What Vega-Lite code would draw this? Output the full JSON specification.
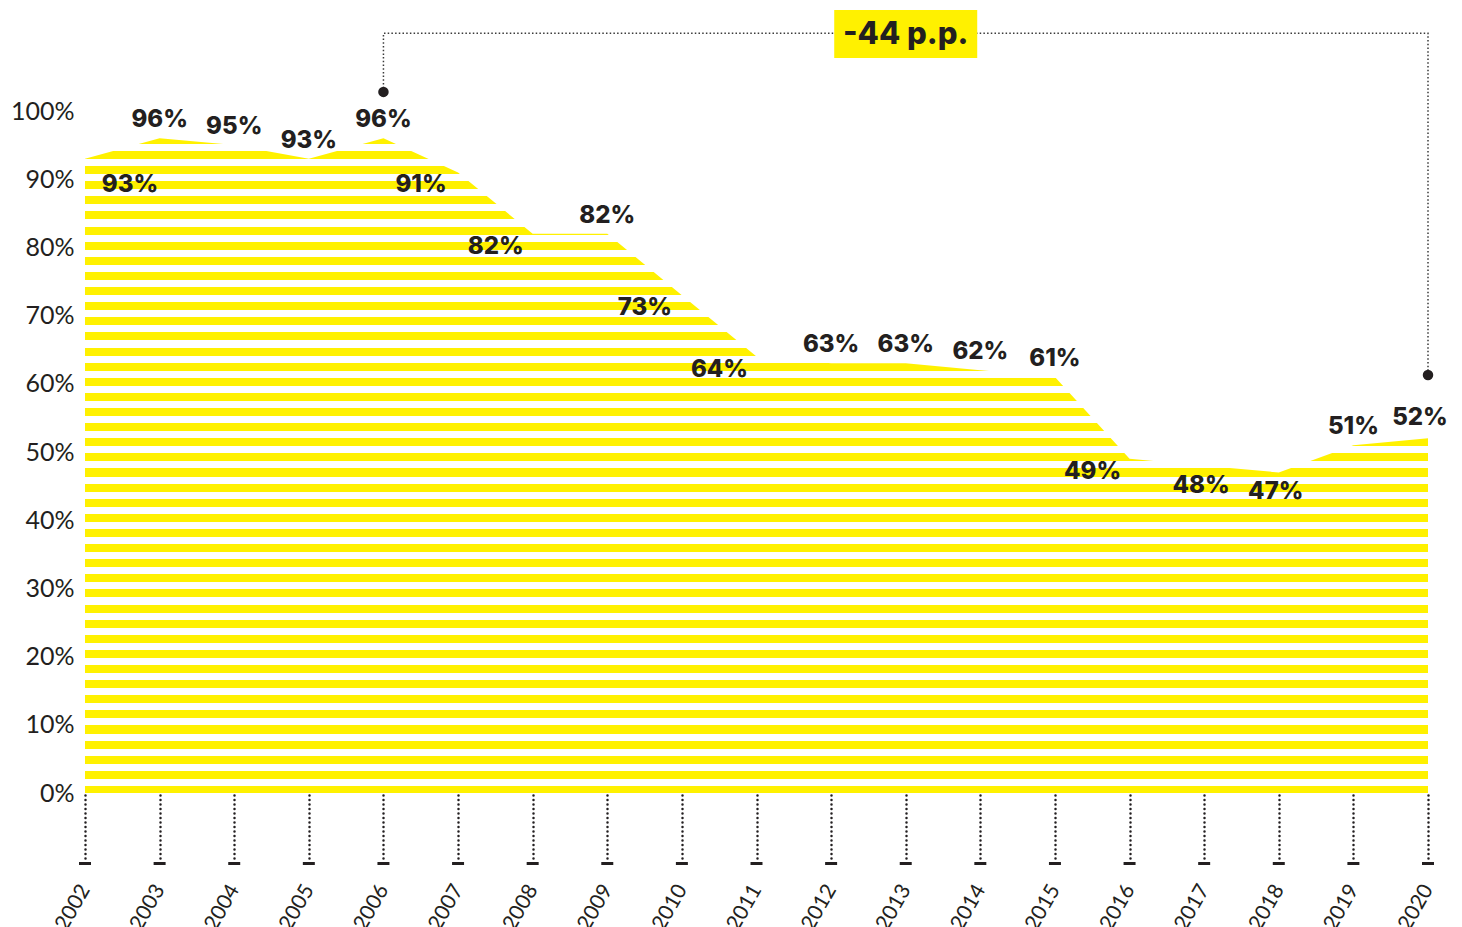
{
  "$schema": "https://vega.github.io/schema/vega-lite/v6.json",
  "autosize": {"type": "none"},
  "padding": {"left": 85, "top": 111, "right": 34, "bottom": 134},
  "width": 1343,
  "height": 682,
  "background": "#ffffff",
  "config": {"view": {"stroke": null}, "font": "Lato"},
  "datasets": {
    "main": [
      {"year": 2002, "value": 93, "label": "93%", "pos": "start"},
      {"year": 2003, "value": 96, "label": "96%", "pos": "above"},
      {"year": 2004, "value": 95, "label": "95%", "pos": "above"},
      {"year": 2005, "value": 93, "label": "93%", "pos": "above"},
      {"year": 2006, "value": 96, "label": "96%", "pos": "above"},
      {"year": 2007, "value": 91, "label": "91%", "pos": "belowleft"},
      {"year": 2008, "value": 82, "label": "82%", "pos": "belowleft"},
      {"year": 2009, "value": 82, "label": "82%", "pos": "above"},
      {"year": 2010, "value": 73, "label": "73%", "pos": "belowleft"},
      {"year": 2011, "value": 64, "label": "64%", "pos": "belowleft"},
      {"year": 2012, "value": 63, "label": "63%", "pos": "above"},
      {"year": 2013, "value": 63, "label": "63%", "pos": "above"},
      {"year": 2014, "value": 62, "label": "62%", "pos": "above"},
      {"year": 2015, "value": 61, "label": "61%", "pos": "above"},
      {"year": 2016, "value": 49, "label": "49%", "pos": "belowleft"},
      {"year": 2017, "value": 48, "label": "48%", "pos": "below"},
      {"year": 2018, "value": 47, "label": "47%", "pos": "below"},
      {"year": 2019, "value": 51, "label": "51%", "pos": "above"},
      {"year": 2020, "value": 52, "label": "52%", "pos": "end"}
    ],
    "bracket": [
      {"year": 2006, "value": 102.8, "order": 1, "end": true},
      {"year": 2006, "value": 111.4, "order": 2, "end": false},
      {"year": 2020, "value": 111.4, "order": 3, "end": false},
      {"year": 2020, "value": 61.3, "order": 4, "end": true}
    ],
    "box": [
      {"year": 2013.0, "value": 111.3, "text": "-44 p.p."}
    ]
  },
  "encoding": {
    "x": {
      "field": "year", "type": "quantitative",
      "scale": {"domain": [2002, 2020], "nice": false, "zero": false},
      "axis": {
        "values": [2002, 2003, 2004, 2005, 2006, 2007, 2008, 2009, 2010, 2011, 2012, 2013, 2014, 2015, 2016, 2017, 2018, 2019, 2020],
        "format": "d", "title": null, "domain": false, "grid": false,
        "ticks": true, "tickSize": 67, "offset": 2, "tickDash": [0.1, 4.4], "tickCap": "round", "tickWidth": 2.5, "tickColor": "#231f20",
        "labelAngle": -60, "labelAlign": "right", "labelBaseline": "middle", "labelPadding": 24, "labelDx": 4,
        "labelFont": "Lato", "labelFontWeight": 400, "labelFontSize": 21, "labelColor": "#231f20",
        "labelFlush": false, "labelOverlap": false
      }
    },
    "y": {
      "field": "value", "type": "quantitative",
      "scale": {"domain": [0, 100], "nice": false, "zero": true},
      "axis": {
        "values": [0, 10, 20, 30, 40, 50, 60, 70, 80, 90, 100],
        "labelExpr": "datum.value + '%'", "title": null, "domain": false, "ticks": false, "grid": false,
        "labelFont": "Lato", "labelFontWeight": 400, "labelFontSize": 25, "labelColor": "#231f20", "labelPadding": 11
      }
    }
  },
  "layer": [
    {
      "data": {"name": "main"},
      "mark": {
        "type": "area",
        "interpolate": "linear",
        "fill": {
          "gradient": "linear",
          "x1": 0, "y1": 0, "x2": 0, "y2": 1,
          "stops": [
            {"offset": 0, "color": "#FFF100"},
            {"offset": 0.0085, "color": "#FFF100"}, {"offset": 0.0085, "color": "#ffffff"}, {"offset": 0.0194, "color": "#ffffff"}, {"offset": 0.0194, "color": "#FFF100"},
            {"offset": 0.0316, "color": "#FFF100"}, {"offset": 0.0316, "color": "#ffffff"}, {"offset": 0.0425, "color": "#ffffff"}, {"offset": 0.0425, "color": "#FFF100"},
            {"offset": 0.0547, "color": "#FFF100"}, {"offset": 0.0547, "color": "#ffffff"}, {"offset": 0.0656, "color": "#ffffff"}, {"offset": 0.0656, "color": "#FFF100"},
            {"offset": 0.0778, "color": "#FFF100"}, {"offset": 0.0778, "color": "#ffffff"}, {"offset": 0.0887, "color": "#ffffff"}, {"offset": 0.0887, "color": "#FFF100"},
            {"offset": 0.1009, "color": "#FFF100"}, {"offset": 0.1009, "color": "#ffffff"}, {"offset": 0.1117, "color": "#ffffff"}, {"offset": 0.1117, "color": "#FFF100"},
            {"offset": 0.1240, "color": "#FFF100"}, {"offset": 0.1240, "color": "#ffffff"}, {"offset": 0.1348, "color": "#ffffff"}, {"offset": 0.1348, "color": "#FFF100"},
            {"offset": 0.1471, "color": "#FFF100"}, {"offset": 0.1471, "color": "#ffffff"}, {"offset": 0.1579, "color": "#ffffff"}, {"offset": 0.1579, "color": "#FFF100"},
            {"offset": 0.1702, "color": "#FFF100"}, {"offset": 0.1702, "color": "#ffffff"}, {"offset": 0.1810, "color": "#ffffff"}, {"offset": 0.1810, "color": "#FFF100"},
            {"offset": 0.1932, "color": "#FFF100"}, {"offset": 0.1932, "color": "#ffffff"}, {"offset": 0.2041, "color": "#ffffff"}, {"offset": 0.2041, "color": "#FFF100"},
            {"offset": 0.2163, "color": "#FFF100"}, {"offset": 0.2163, "color": "#ffffff"}, {"offset": 0.2272, "color": "#ffffff"}, {"offset": 0.2272, "color": "#FFF100"},
            {"offset": 0.2394, "color": "#FFF100"}, {"offset": 0.2394, "color": "#ffffff"}, {"offset": 0.2503, "color": "#ffffff"}, {"offset": 0.2503, "color": "#FFF100"},
            {"offset": 0.2625, "color": "#FFF100"}, {"offset": 0.2625, "color": "#ffffff"}, {"offset": 0.2734, "color": "#ffffff"}, {"offset": 0.2734, "color": "#FFF100"},
            {"offset": 0.2856, "color": "#FFF100"}, {"offset": 0.2856, "color": "#ffffff"}, {"offset": 0.2965, "color": "#ffffff"}, {"offset": 0.2965, "color": "#FFF100"},
            {"offset": 0.3087, "color": "#FFF100"}, {"offset": 0.3087, "color": "#ffffff"}, {"offset": 0.3196, "color": "#ffffff"}, {"offset": 0.3196, "color": "#FFF100"},
            {"offset": 0.3318, "color": "#FFF100"}, {"offset": 0.3318, "color": "#ffffff"}, {"offset": 0.3427, "color": "#ffffff"}, {"offset": 0.3427, "color": "#FFF100"},
            {"offset": 0.3549, "color": "#FFF100"}, {"offset": 0.3549, "color": "#ffffff"}, {"offset": 0.3658, "color": "#ffffff"}, {"offset": 0.3658, "color": "#FFF100"},
            {"offset": 0.3780, "color": "#FFF100"}, {"offset": 0.3780, "color": "#ffffff"}, {"offset": 0.3889, "color": "#ffffff"}, {"offset": 0.3889, "color": "#FFF100"},
            {"offset": 0.4011, "color": "#FFF100"}, {"offset": 0.4011, "color": "#ffffff"}, {"offset": 0.4120, "color": "#ffffff"}, {"offset": 0.4120, "color": "#FFF100"},
            {"offset": 0.4242, "color": "#FFF100"}, {"offset": 0.4242, "color": "#ffffff"}, {"offset": 0.4351, "color": "#ffffff"}, {"offset": 0.4351, "color": "#FFF100"},
            {"offset": 0.4473, "color": "#FFF100"}, {"offset": 0.4473, "color": "#ffffff"}, {"offset": 0.4582, "color": "#ffffff"}, {"offset": 0.4582, "color": "#FFF100"},
            {"offset": 0.4704, "color": "#FFF100"}, {"offset": 0.4704, "color": "#ffffff"}, {"offset": 0.4812, "color": "#ffffff"}, {"offset": 0.4812, "color": "#FFF100"},
            {"offset": 0.4935, "color": "#FFF100"}, {"offset": 0.4935, "color": "#ffffff"}, {"offset": 0.5043, "color": "#ffffff"}, {"offset": 0.5043, "color": "#FFF100"},
            {"offset": 0.5166, "color": "#FFF100"}, {"offset": 0.5166, "color": "#ffffff"}, {"offset": 0.5274, "color": "#ffffff"}, {"offset": 0.5274, "color": "#FFF100"},
            {"offset": 0.5397, "color": "#FFF100"}, {"offset": 0.5397, "color": "#ffffff"}, {"offset": 0.5505, "color": "#ffffff"}, {"offset": 0.5505, "color": "#FFF100"},
            {"offset": 0.5627, "color": "#FFF100"}, {"offset": 0.5627, "color": "#ffffff"}, {"offset": 0.5736, "color": "#ffffff"}, {"offset": 0.5736, "color": "#FFF100"},
            {"offset": 0.5858, "color": "#FFF100"}, {"offset": 0.5858, "color": "#ffffff"}, {"offset": 0.5967, "color": "#ffffff"}, {"offset": 0.5967, "color": "#FFF100"},
            {"offset": 0.6089, "color": "#FFF100"}, {"offset": 0.6089, "color": "#ffffff"}, {"offset": 0.6198, "color": "#ffffff"}, {"offset": 0.6198, "color": "#FFF100"},
            {"offset": 0.6320, "color": "#FFF100"}, {"offset": 0.6320, "color": "#ffffff"}, {"offset": 0.6429, "color": "#ffffff"}, {"offset": 0.6429, "color": "#FFF100"},
            {"offset": 0.6551, "color": "#FFF100"}, {"offset": 0.6551, "color": "#ffffff"}, {"offset": 0.6660, "color": "#ffffff"}, {"offset": 0.6660, "color": "#FFF100"},
            {"offset": 0.6782, "color": "#FFF100"}, {"offset": 0.6782, "color": "#ffffff"}, {"offset": 0.6891, "color": "#ffffff"}, {"offset": 0.6891, "color": "#FFF100"},
            {"offset": 0.7013, "color": "#FFF100"}, {"offset": 0.7013, "color": "#ffffff"}, {"offset": 0.7122, "color": "#ffffff"}, {"offset": 0.7122, "color": "#FFF100"},
            {"offset": 0.7244, "color": "#FFF100"}, {"offset": 0.7244, "color": "#ffffff"}, {"offset": 0.7353, "color": "#ffffff"}, {"offset": 0.7353, "color": "#FFF100"},
            {"offset": 0.7475, "color": "#FFF100"}, {"offset": 0.7475, "color": "#ffffff"}, {"offset": 0.7584, "color": "#ffffff"}, {"offset": 0.7584, "color": "#FFF100"},
            {"offset": 0.7706, "color": "#FFF100"}, {"offset": 0.7706, "color": "#ffffff"}, {"offset": 0.7815, "color": "#ffffff"}, {"offset": 0.7815, "color": "#FFF100"},
            {"offset": 0.7937, "color": "#FFF100"}, {"offset": 0.7937, "color": "#ffffff"}, {"offset": 0.8046, "color": "#ffffff"}, {"offset": 0.8046, "color": "#FFF100"},
            {"offset": 0.8168, "color": "#FFF100"}, {"offset": 0.8168, "color": "#ffffff"}, {"offset": 0.8277, "color": "#ffffff"}, {"offset": 0.8277, "color": "#FFF100"},
            {"offset": 0.8399, "color": "#FFF100"}, {"offset": 0.8399, "color": "#ffffff"}, {"offset": 0.8507, "color": "#ffffff"}, {"offset": 0.8507, "color": "#FFF100"},
            {"offset": 0.8630, "color": "#FFF100"}, {"offset": 0.8630, "color": "#ffffff"}, {"offset": 0.8738, "color": "#ffffff"}, {"offset": 0.8738, "color": "#FFF100"},
            {"offset": 0.8861, "color": "#FFF100"}, {"offset": 0.8861, "color": "#ffffff"}, {"offset": 0.8969, "color": "#ffffff"}, {"offset": 0.8969, "color": "#FFF100"},
            {"offset": 0.9092, "color": "#FFF100"}, {"offset": 0.9092, "color": "#ffffff"}, {"offset": 0.9200, "color": "#ffffff"}, {"offset": 0.9200, "color": "#FFF100"},
            {"offset": 0.9322, "color": "#FFF100"}, {"offset": 0.9322, "color": "#ffffff"}, {"offset": 0.9431, "color": "#ffffff"}, {"offset": 0.9431, "color": "#FFF100"},
            {"offset": 0.9553, "color": "#FFF100"}, {"offset": 0.9553, "color": "#ffffff"}, {"offset": 0.9662, "color": "#ffffff"}, {"offset": 0.9662, "color": "#FFF100"},
            {"offset": 0.9784, "color": "#FFF100"}, {"offset": 0.9784, "color": "#ffffff"}, {"offset": 0.9893, "color": "#ffffff"}, {"offset": 0.9893, "color": "#FFF100"},
            {"offset": 1, "color": "#FFF100"}
          ]
        }
      }
    },
    {
      "data": {"name": "main"},
      "mark": {"type": "tick", "orient": "horizontal", "size": 12, "thickness": 3, "color": "#231f20", "opacity": 1},
      "encoding": {
        "y": {
          "datum": -10.34, "type": "quantitative",
          "axis": {
            "values": [0, 10, 20, 30, 40, 50, 60, 70, 80, 90, 100],
            "labelExpr": "datum.value + '%'", "title": null, "domain": false, "ticks": false, "grid": false,
            "labelFont": "Lato", "labelFontWeight": 400, "labelFontSize": 25, "labelColor": "#231f20", "labelPadding": 11
          }
        }
      }
    },
    {
      "data": {"name": "main"},
      "transform": [{"filter": "datum.pos == 'above'"}],
      "mark": {"type": "text", "font": "Inter", "fontWeight": 800, "fontSize": 24, "color": "#231f20", "align": "center", "baseline": "middle", "dy": -18},
      "encoding": {"text": {"field": "label"}}
    },
    {
      "data": {"name": "main"},
      "transform": [{"filter": "datum.pos == 'belowleft'"}],
      "mark": {"type": "text", "font": "Inter", "fontWeight": 800, "fontSize": 24, "color": "#231f20", "align": "center", "baseline": "middle", "dx": -37, "dy": 13},
      "encoding": {"text": {"field": "label"}}
    },
    {
      "data": {"name": "main"},
      "transform": [{"filter": "datum.pos == 'below'"}],
      "mark": {"type": "text", "font": "Inter", "fontWeight": 800, "fontSize": 24, "color": "#231f20", "align": "center", "baseline": "middle", "dx": -3, "dy": 20},
      "encoding": {"text": {"field": "label"}}
    },
    {
      "data": {"name": "main"},
      "transform": [{"filter": "datum.pos == 'start'"}],
      "mark": {"type": "text", "font": "Inter", "fontWeight": 800, "fontSize": 24, "color": "#231f20", "align": "center", "baseline": "middle", "dx": 45, "dy": 26},
      "encoding": {"text": {"field": "label"}}
    },
    {
      "data": {"name": "main"},
      "transform": [{"filter": "datum.pos == 'end'"}],
      "mark": {"type": "text", "font": "Inter", "fontWeight": 800, "fontSize": 24, "color": "#231f20", "align": "center", "baseline": "middle", "dx": -8, "dy": -20},
      "encoding": {"text": {"field": "label"}}
    },
    {
      "data": {"name": "bracket"},
      "mark": {"type": "line", "color": "#3a3a3a", "strokeWidth": 1.5, "strokeDash": [1.5, 2.2], "interpolate": "linear"},
      "encoding": {"order": {"field": "order", "type": "quantitative"}}
    },
    {
      "data": {"name": "bracket"},
      "transform": [{"filter": "datum.end"}],
      "mark": {"type": "point", "shape": "circle", "filled": true, "size": 110, "color": "#231f20", "opacity": 1},
      "encoding": {}
    },
    {
      "data": {"name": "box"},
      "mark": {"type": "point", "shape": "M-1,-0.3357H1V0.3357H-1Z", "filled": true, "size": 20449, "color": "#FFF100", "opacity": 1},
      "encoding": {}
    },
    {
      "data": {"name": "box"},
      "mark": {"type": "text", "font": "Inter", "fontWeight": 800, "fontSize": 31, "color": "#231f20", "align": "center", "baseline": "middle", "dy": 1},
      "encoding": {"text": {"field": "text"}}
    }
  ]
}
